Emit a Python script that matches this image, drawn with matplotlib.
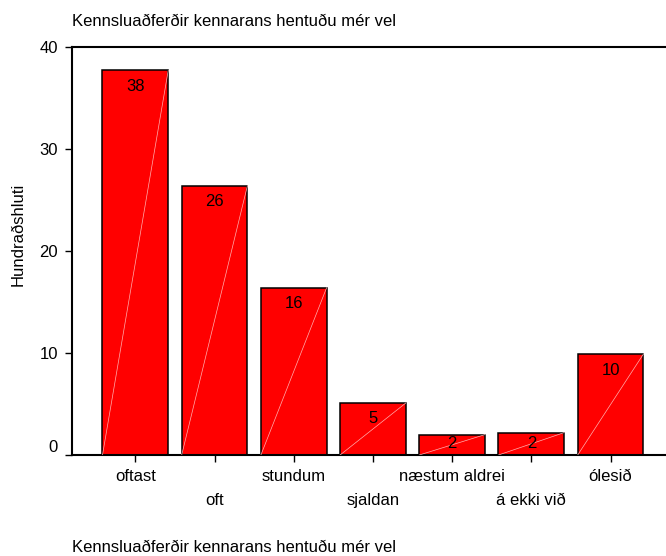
import matplotlib
matplotlib.use("Agg")
import matplotlib.pyplot as plt
from matplotlib.transforms import ScaledTranslation

categories = ["oftast", "oft", "stundum", "sjaldan", "næstum aldrei", "á ekki við", "ólesið"]
values = [37.7, 26.4, 16.4, 5.1, 2.0, 2.2, 9.9]
labels = ["38", "26", "16", "5", "2", "2", "10"]
yticks = [0, 10, 20, 30, 40]
title = "Kennsluaðferðir kennarans hentuðu mér vel"
xlabel = "Kennsluaðferðir kennarans hentuðu mér vel"
ylabel = "Hundraðshluti"

plt.rcParams['font.family'] = ['Liberation Sans', 'DejaVu Sans']
fs = 12

W, H = 666, 556
fig = plt.figure(figsize=(W / 100, H / 100), dpi=100)
left, right, top, bottom = 72, 690, 47, 455
ax = fig.add_axes([left / W, 1 - bottom / H, (right - left) / W, (bottom - top) / H])

x = list(range(len(categories)))
bars = ax.bar(x, values, width=0.83, color="#ff0000", edgecolor="black", linewidth=1.1, zorder=2)
for b in bars:
    x0 = b.get_x()
    x1 = x0 + b.get_width()
    h = b.get_height()
    ax.plot([x0, x1], [0, h], color="#ffb0b0", linewidth=0.5, zorder=3)

for xi, v, lab in zip(x, values, labels):
    ax.text(xi, max(v - 1.57, 1.08), lab, ha="center", va="center", fontsize=fs, zorder=4)

ax.set_xlim(-0.80, (right - left) / 79.2 - 0.80)
ax.set_ylim(0, 40)
ax.set_yticks(yticks)
ax.set_yticklabels([str(t) for t in yticks], fontsize=fs)
ax.set_xticks(x)
ax.set_xticklabels([c if i % 2 == 0 else "\n" + c for i, c in enumerate(categories)], fontsize=fs,
                   linespacing=1.75)
ax.tick_params(axis="both", direction="out", length=5, width=1, color="black")
ax.tick_params(axis="x", pad=5)
ax.tick_params(axis="y", pad=5)
lab0 = ax.get_yticklabels()[0]
lab0.set_transform(lab0.get_transform() + ScaledTranslation(0, 9 / 100, fig.dpi_scale_trans))
for s in ["left", "bottom", "top"]:
    ax.spines[s].set_linewidth(1.5)
ax.spines["right"].set_visible(False)

fig.text(left / W, 1 - 22 / H, title, ha="left", va="center", fontsize=fs)
fig.text(left / W, 1 - 547 / H, xlabel, ha="left", va="center", fontsize=fs)
fig.text(18 / W, 1 - 234 / H, ylabel, ha="center", va="center", rotation=90, fontsize=fs)

fig.savefig("out.png", dpi=100)
